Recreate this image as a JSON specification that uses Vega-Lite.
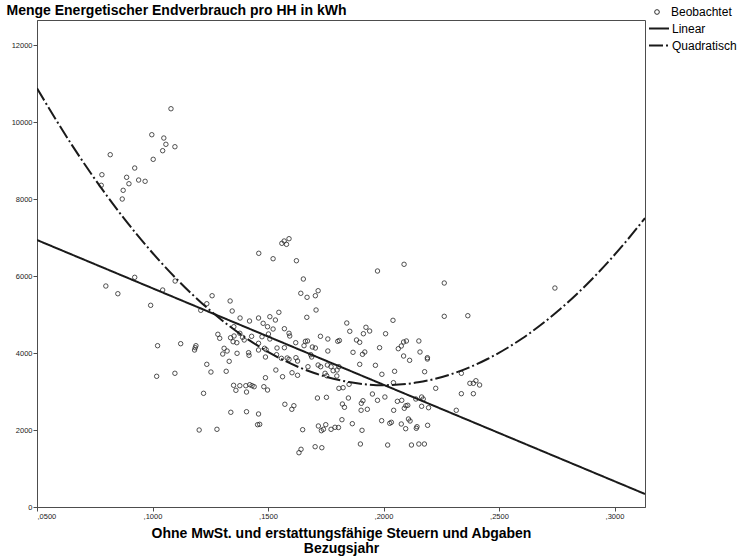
{
  "$schema": "https://vega.github.io/schema/vega-lite/v6.json",
  "width": 608,
  "height": 487,
  "autosize": {"type": "none"},
  "padding": {"left": 37, "top": 20, "right": 96, "bottom": 50},
  "background": "white",
  "config": {
    "font": "Liberation Sans",
    "view": {"stroke": "#4d4d4d", "strokeWidth": 1},
    "axis": {"grid": false, "domainColor": "#4d4d4d", "tickColor": "#4d4d4d", "tickSize": 4, "labelFontSize": 7.5, "labelColor": "#222222", "labelPadding": 1, "titleColor": "#000000", "titleFontWeight": "bold", "titleFontSize": 14},
    "legend": {"title": null, "padding": 0, "labelFont": "Liberation Sans", "labelFontSize": 12, "labelColor": "#000000"}
  },
  "datasets": {
    "obs": [
      {"x":0.1080,"y":10345},{"x":0.0997,"y":9670},{"x":0.1049,"y":9584},{"x":0.1058,"y":9421},{"x":0.1097,"y":9358},{"x":0.1044,"y":9255},{"x":0.1003,"y":9031},{"x":0.0817,"y":9151},{"x":0.0781,"y":8631},{"x":0.0778,"y":8356},{"x":0.0923,"y":8805},{"x":0.0888,"y":8564},{"x":0.0898,"y":8397},{"x":0.0940,"y":8493},{"x":0.0968,"y":8460},{"x":0.0873,"y":8226},{"x":0.0869,"y":8000},
      {"x":0.1460,"y":6590},{"x":0.0798,"y":5740},{"x":0.0850,"y":5540},{"x":0.0923,"y":5966},{"x":0.0992,"y":5239},{"x":0.1044,"y":5636},{"x":0.1098,"y":5870},{"x":0.1258,"y":5488},{"x":0.1235,"y":5280},{"x":0.1209,"y":5109},{"x":0.1336,"y":5351},{"x":0.1345,"y":5091},{"x":0.1379,"y":4909},{"x":0.1420,"y":4831},{"x":0.1459,"y":4909},{"x":0.1352,"y":4683},{"x":0.1283,"y":4486},{"x":0.1291,"y":4382},{"x":0.1338,"y":4397},{"x":0.1353,"y":4442},{"x":0.1378,"y":4512},{"x":0.1390,"y":4408},{"x":0.1429,"y":4434},{"x":0.1349,"y":4294},{"x":0.1365,"y":4268},{"x":0.1397,"y":4338},{"x":0.1459,"y":4252},{"x":0.1310,"y":4122},{"x":0.1323,"y":4052},{"x":0.1304,"y":3974},{"x":0.1366,"y":3992},{"x":0.1416,"y":4008},{"x":0.1418,"y":3940},{"x":0.1459,"y":4078},{"x":0.1332,"y":3784},{"x":0.1235,"y":3706},{"x":0.1253,"y":3506},{"x":0.1319,"y":3525},{"x":0.1022,"y":4190},{"x":0.1122,"y":4242},{"x":0.1188,"y":4190},{"x":0.1185,"y":4138},{"x":0.1182,"y":4078},{"x":0.1018,"y":3395},{"x":0.1097,"y":3473},{"x":0.1351,"y":3161},{"x":0.1361,"y":3031},{"x":0.1378,"y":3151},{"x":0.1407,"y":2987},{"x":0.1404,"y":3151},{"x":0.1421,"y":3177},{"x":0.1431,"y":3151},{"x":0.1440,"y":3125},{"x":0.1221,"y":2953},{"x":0.1339,"y":2460},{"x":0.1407,"y":2475},{"x":0.1459,"y":2416},
      {"x":0.1560,"y":6849},{"x":0.1570,"y":6909},{"x":0.1580,"y":6823},{"x":0.1591,"y":6969},{"x":0.1522,"y":6449},{"x":0.1623,"y":6397},{"x":0.1653,"y":5922},{"x":0.1642,"y":5551},{"x":0.1669,"y":5447},{"x":0.1705,"y":5488},{"x":0.1717,"y":5618},{"x":0.1708,"y":5117},{"x":0.1668,"y":4927},{"x":0.1547,"y":5057},{"x":0.1508,"y":4943},{"x":0.1532,"y":4857},{"x":0.1479,"y":4771},{"x":0.1498,"y":4683},{"x":0.1522,"y":4623},{"x":0.1571,"y":4631},{"x":0.1591,"y":4512},{"x":0.1594,"y":4442},{"x":0.1502,"y":4494},{"x":0.1508,"y":4364},{"x":0.1474,"y":4423},{"x":0.1620,"y":4268},{"x":0.1662,"y":4304},{"x":0.1671,"y":4312},{"x":0.1727,"y":4434},{"x":0.1759,"y":4364},{"x":0.1656,"y":4190},{"x":0.1692,"y":4156},{"x":0.1705,"y":4130},{"x":0.1485,"y":4122},{"x":0.1492,"y":4086},{"x":0.1539,"y":4130},{"x":0.1571,"y":4138},{"x":0.1759,"y":4052},{"x":0.1489,"y":3896},{"x":0.1537,"y":3956},{"x":0.1583,"y":3870},{"x":0.1591,"y":3836},{"x":0.1621,"y":3878},{"x":0.1628,"y":3792},{"x":0.1685,"y":3956},{"x":0.1689,"y":3896},{"x":0.1717,"y":3688},{"x":0.1728,"y":3644},{"x":0.1673,"y":3644},{"x":0.1757,"y":3688},{"x":0.1534,"y":3558},{"x":0.1563,"y":3384},{"x":0.1604,"y":3488},{"x":0.1628,"y":3421},{"x":0.1754,"y":3410},{"x":0.1489,"y":3358},{"x":0.1482,"y":3125},{"x":0.1498,"y":3039},{"x":0.1714,"y":2831},{"x":0.1753,"y":2849},{"x":0.1573,"y":2668},{"x":0.1603,"y":2538},{"x":0.1612,"y":2631},{"x":0.1650,"y":2008},{"x":0.1718,"y":2104},{"x":0.1731,"y":1982},{"x":0.1750,"y":2138},{"x":0.1740,"y":2018},{"x":0.1634,"y":1410},{"x":0.1643,"y":1499},{"x":0.1704,"y":1566},{"x":0.1733,"y":1540},{"x":0.1202,"y":2000},{"x":0.1279,"y":2018},{"x":0.1455,"y":2138},{"x":0.1464,"y":2148},
      {"x":0.1558,"y":3862},{"x":0.1773,"y":3644},{"x":0.1782,"y":3540},{"x":0.1747,"y":3473},
      {"x":0.1974,"y":6130},{"x":0.2089,"y":6304},{"x":0.2263,"y":5818},{"x":0.2263,"y":4953},{"x":0.1841,"y":4779},{"x":0.1854,"y":4564},{"x":0.1924,"y":4668},{"x":0.1940,"y":4571},{"x":0.1913,"y":4501},{"x":0.1883,"y":4338},{"x":0.1897,"y":4278},{"x":0.2009,"y":4501},{"x":0.2041,"y":4849},{"x":0.1802,"y":4304},{"x":0.1809,"y":4325},{"x":0.1807,"y":3644},{"x":0.1799,"y":3558},{"x":0.1798,"y":3403},{"x":0.1851,"y":3187},{"x":0.1807,"y":3083},{"x":0.1825,"y":3099},{"x":0.1868,"y":4018},{"x":0.1909,"y":3966},{"x":0.1919,"y":4026},{"x":0.1897,"y":3706},{"x":0.1965,"y":3680},{"x":0.1983,"y":4138},{"x":0.2064,"y":4112},{"x":0.2077,"y":4182},{"x":0.2087,"y":4286},{"x":0.2099,"y":4312},{"x":0.2087,"y":3922},{"x":0.2113,"y":3810},{"x":0.2153,"y":4312},{"x":0.2158,"y":4026},{"x":0.2190,"y":3878},{"x":0.2190,"y":3844},{"x":0.2178,"y":3514},{"x":0.2048,"y":3525},{"x":0.1993,"y":3447},{"x":0.1952,"y":2935},{"x":0.1974,"y":2771},{"x":0.2006,"y":2857},{"x":0.2043,"y":3229},{"x":0.2060,"y":2745},{"x":0.2079,"y":2771},{"x":0.2097,"y":2631},{"x":0.2105,"y":2642},{"x":0.2090,"y":2564},{"x":0.2140,"y":2805},{"x":0.2165,"y":2857},{"x":0.2172,"y":2805},{"x":0.2165,"y":2616},{"x":0.2195,"y":2579},{"x":0.2226,"y":3083},{"x":0.2044,"y":2512},{"x":0.1911,"y":2761},{"x":0.1904,"y":2694},{"x":0.1903,"y":2512},{"x":0.1930,"y":2538},{"x":0.1848,"y":2831},{"x":0.1822,"y":2675},{"x":0.1831,"y":2590},{"x":0.1820,"y":2268},{"x":0.1865,"y":2164},{"x":0.1907,"y":1992},{"x":0.1992,"y":2242},{"x":0.2027,"y":2174},{"x":0.2034,"y":2200},{"x":0.2077,"y":2156},{"x":0.2108,"y":2286},{"x":0.2115,"y":2234},{"x":0.2096,"y":2034},{"x":0.2145,"y":2086},{"x":0.2142,"y":2044},{"x":0.2191,"y":2122},{"x":0.1900,"y":1636},{"x":0.2018,"y":1610},{"x":0.2121,"y":1610},{"x":0.2153,"y":1636},{"x":0.2177,"y":1636},{"x":0.1773,"y":2018},{"x":0.1790,"y":2070},{"x":0.1805,"y":2065},
      {"x":0.2365,"y":4969},{"x":0.2742,"y":5688},{"x":0.2337,"y":3473},{"x":0.2374,"y":3213},{"x":0.2389,"y":3213},{"x":0.2400,"y":3280},{"x":0.2416,"y":3169},{"x":0.2337,"y":2943},{"x":0.2389,"y":2943},{"x":0.2315,"y":2512}
    ],
    "lin": [{"x":0.05,"y":6935},{"x":0.3132,"y":338}],
    "quad": [
      {"x":0.050,"y":10875},{"x":0.065,"y":9413},{"x":0.080,"y":8105},{"x":0.095,"y":6951},{"x":0.110,"y":5950},{"x":0.125,"y":5102},{"x":0.140,"y":4408},{"x":0.155,"y":3867},{"x":0.170,"y":3479},{"x":0.185,"y":3246},{"x":0.200,"y":3165},{"x":0.215,"y":3238},{"x":0.230,"y":3464},{"x":0.245,"y":3844},{"x":0.260,"y":4377},{"x":0.275,"y":5064},{"x":0.290,"y":5904},{"x":0.305,"y":6898},{"x":0.3132,"y":7506}
    ]
  },
  "encoding": {
    "x": {"field": "x", "type": "quantitative",
      "scale": {"domain": [0.05, 0.3132], "zero": false, "nice": false},
      "axis": {"values": [0.05, 0.1, 0.15, 0.2, 0.25, 0.3],
        "labelExpr": "replace(format(datum.value, '.4f'), '0.', ',')",
        "title": ["Ohne MwSt. und erstattungsfähige Steuern und Abgaben", "Bezugsjahr"],
        "titleLineHeight": 15, "titlePadding": 7}},
    "y": {"field": "y", "type": "quantitative",
      "scale": {"domain": [0, 12650], "nice": false, "zero": true},
      "axis": {"values": [0, 2000, 4000, 6000, 8000, 10000, 12000], "format": "d",
        "title": "Menge Energetischer Endverbrauch pro HH in kWh",
        "titleAngle": 0, "titleAlign": "left", "titleBaseline": "middle", "titleX": -31, "titleY": -10}}
  },
  "layer": [
    {
      "data": {"name": "obs"},
      "mark": {"type": "point", "filled": false, "size": 20, "strokeWidth": 0.8, "opacity": 1, "color": "#262626"},
      "encoding": {
        "shape": {"datum": "Beobachtet",
          "scale": {"domain": ["Beobachtet"], "range": ["circle"]},
          "legend": {"orient": "none", "legendX": 614, "legendY": -14, "labelOffset": 8,
            "symbolSize": 22, "symbolStrokeWidth": 0.9, "symbolStrokeColor": "#1a1a1a", "symbolFillColor": "transparent"}}
      }
    },
    {
      "data": {"name": "lin"},
      "mark": {"type": "line", "strokeWidth": 2, "clip": true, "color": "#1a1a1a"},
      "encoding": {
        "strokeDash": {"datum": "Linear",
          "scale": {"domain": ["Linear", "Quadratisch"], "range": [[1, 0], [14, 3, 2, 3]]},
          "legend": {"orient": "none", "legendX": 611, "legendY": -2.5, "labelOffset": 2, "rowPadding": -5,
            "symbolType": "stroke", "symbolSize": 400, "symbolStrokeWidth": 2, "symbolStrokeColor": "#1a1a1a"}}
      }
    },
    {
      "data": {"name": "quad"},
      "mark": {"type": "line", "strokeWidth": 2, "interpolate": "monotone", "clip": true, "color": "#1a1a1a"},
      "encoding": {"strokeDash": {"datum": "Quadratisch"}}
    }
  ]
}
